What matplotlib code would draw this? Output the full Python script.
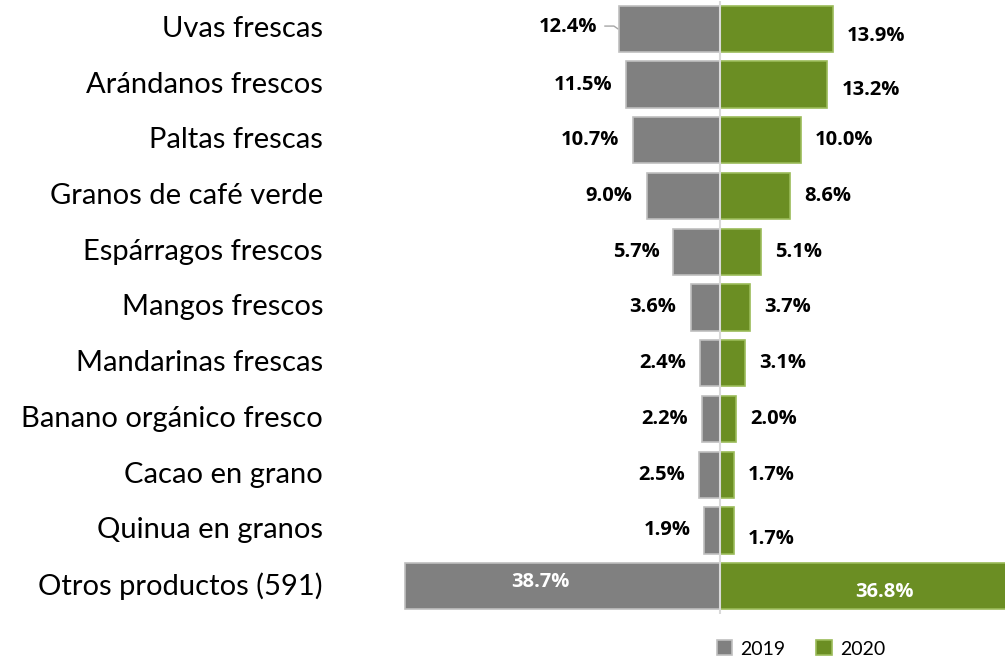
import matplotlib
matplotlib.use("Agg")
import matplotlib.pyplot as plt

categories = ["Uvas frescas", "Arándanos frescos", "Paltas frescas", "Granos de café verde",
              "Espárragos frescos", "Mangos frescos", "Mandarinas frescas",
              "Banano orgánico fresco", "Cacao en grano", "Quinua en granos",
              "Otros productos (591)"]
v2019 = [12.4, 11.5, 10.7, 9.0, 5.7, 3.6, 2.4, 2.2, 2.5, 1.9, 38.7]
v2020 = [13.9, 13.2, 10.0, 8.6, 5.1, 3.7, 3.1, 2.0, 1.7, 1.7, 36.8]
series = ["2019", "2020"]

GRAY = "#808080"
GREEN = "#6B8E23"
FONT = "Lato"
VFONT = "Open Sans"
VSIZE = 14.5

fig = plt.figure(figsize=(10.05, 6.59), dpi=100)
ax = fig.add_axes([398/1005, 1-614/659, 1-398/1005, 613/659])
ax.set_xlim(-39.5, 35)
n = len(categories)
ax.set_ylim(n-0.5, -0.5)
y = list(range(n))

bl = ax.barh(y, [-v for v in v2019], height=0.83, color=GRAY, edgecolor="#BFBFBF",
             linewidth=1.2, label=series[0], zorder=2)
br = ax.barh(y, v2020, height=0.83, color=GREEN, edgecolor="#9BBB59",
             linewidth=1.2, label=series[1], zorder=2)
ax.axvline(0, color="#D9D9D9", linewidth=1.5, zorder=3, ymax=1.0)

for s in ax.spines.values():
    s.set_visible(False)
ax.set_xticks([])
ax.set_yticks([])

for i, c in enumerate(categories):
    ax.annotate(c, xy=(0, i), xycoords=("axes fraction", "data"), xytext=(-54, 0),
                textcoords="offset points", ha="right", va="center",
                fontsize=21, family=FONT, color="#000000")

# value label nudges (px) for readability
dy_right = {0: 7, 1: 5, 9: 9}
dy_left = {0: -2}
dx_left = {0: -8}
for i in range(n - 1):
    ax.annotate(f"{v2019[i]:.1f}%", xy=(-v2019[i], i),
                xytext=((-14 + dx_left.get(i, 0)) * 0.72, -dy_left.get(i, 0) * 0.72),
                textcoords="offset points", ha="right", va="center",
                fontsize=VSIZE, fontweight="bold", family=VFONT, color="black")
    ax.annotate(f"{v2020[i]:.1f}%", xy=(v2020[i], i), xytext=(10, -dy_right.get(i, 0) * 0.72),
                textcoords="offset points", ha="left", va="center",
                fontsize=VSIZE, fontweight="bold", family=VFONT, color="black")

# leader line for first label
ax.plot([-v2019[0] - 1.7, -v2019[0] - 0.6, -v2019[0] - 0.1], [-0.05, -0.05, 0.0],
        color="#A6A6A6", lw=1.0, zorder=1)

i = n - 1
ax.text(-v2019[i] * 0.57, i - 0.08, f"{v2019[i]:.1f}%", ha="center", va="center",
        fontsize=VSIZE, fontweight="bold", family=VFONT, color="white")
ax.text(v2020[i] * 0.55, i + 0.1, f"{v2020[i]:.1f}%", ha="center", va="center",
        fontsize=VSIZE, fontweight="bold", family=VFONT, color="white")

leg = fig.legend(handles=[bl, br], labels=series, loc="center", bbox_to_anchor=(801/1005, 1-649/659),
                 ncol=2, frameon=False, handlelength=0.8, handleheight=0.8, handletextpad=0.4,
                 columnspacing=1.6, prop={"family": FONT, "size": 14})

fig.savefig("out.png", dpi=100)
